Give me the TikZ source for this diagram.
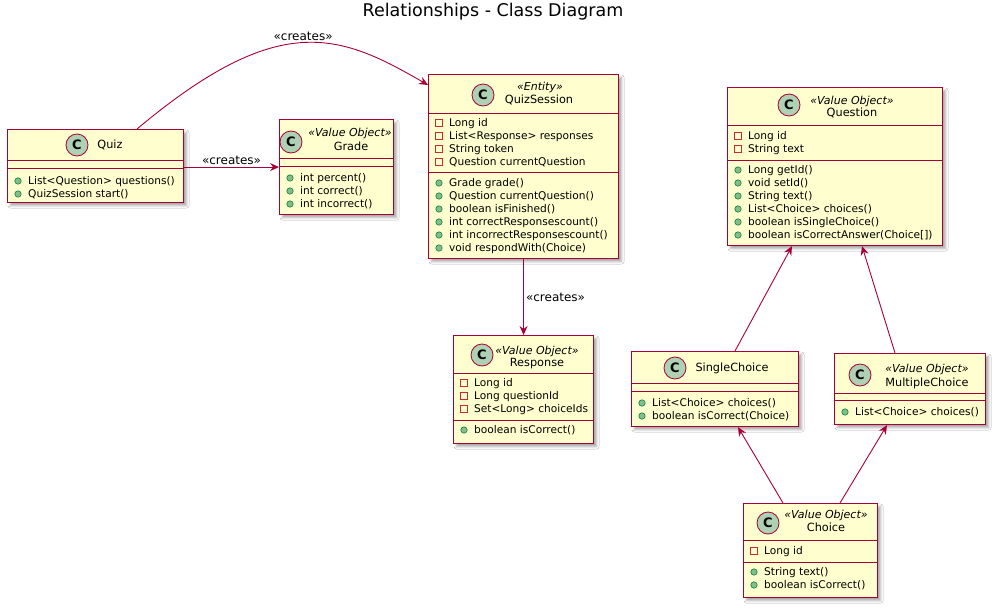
\documentclass[tikz,border=0pt]{standalone}
\usepackage{fontspec}
\setmainfont{DejaVu Sans}
\usetikzlibrary{arrows.meta,shadows.blur}
\definecolor{umlRed}{HTML}{A80036}
\definecolor{umlFill}{HTML}{FEFECE}
\definecolor{umlCirc}{HTML}{ADD1B2}
\definecolor{privRed}{HTML}{C82930}
\definecolor{pubFill}{HTML}{84BE84}
\definecolor{pubLine}{HTML}{038048}
\tikzset{
  classbox/.style={draw=umlRed, line width=1.1pt, fill=umlFill, anchor=north west, inner sep=0pt,
                   blur shadow={shadow xshift=3pt, shadow yshift=-3pt, shadow blur radius=2.5pt, shadow opacity=35}},
  sep/.style={draw=umlRed, line width=1pt},
  circ/.style={circle, draw=umlRed, line width=0.8pt, fill=umlCirc, minimum size=22pt, inner sep=0pt,
               font=\fontsize{13}{13}\selectfont\bfseries},
  cname/.style={inner sep=0pt, text height=10pt, text depth=2.4pt, font=\fontsize{11.3}{13}\selectfont},
  stereo/.style={cname, font=\fontsize{11}{13}\selectfont\itshape},
  member/.style={anchor=west, inner sep=0pt, text height=9pt, text depth=2pt, font=\fontsize{10.6}{13}\selectfont},
  privbox/.style={draw=privRed, line width=0.8pt},
  pubdot/.style={fill=pubFill, draw=pubLine, line width=0.6pt},
  rel/.style={draw=umlRed, line width=0.9pt, -{Stealth[length=9pt,width=8pt,inset=3pt]}},
  lbl/.style={inner sep=2pt, font=\fontsize{12}{13}\selectfont},
}

\begin{document}
\begin{tikzpicture}[x=1pt, y=-1pt]
  \path[fill=white, use as bounding box] (0,0) rectangle (999,608);
  \node[inner sep=0pt, text height=12.5pt, text depth=3.5pt, font=\fontsize{17.5}{20}\selectfont] (title) at (493,12) {Relationships - Class Diagram};

  % Quiz
  \node[classbox, minimum width=176pt, minimum height=73pt] (quiz) at (7,129) {};
  \node[circ] (quizc) at (77,145) {C};
  \node[cname] (quizn) at (110,145) {Quiz};
  \draw[sep] (7,160) -- (183,160);
  \draw[sep] (7,168) -- (183,168);
  \foreach \t [count=\i from 0] in {{List<Question> questions()}, {QuizSession start()}} {
    \draw[pubdot] (18,181+13*\i) circle (3.2pt);
    \node[member] (quizm\i) at (28,181+13*\i) {\t};
  }

  % Grade
  \node[classbox, minimum width=114pt, minimum height=95pt] (grade) at (279,119) {};
  \node[circ] (gradec) at (291,142) {C};
  \node[stereo] (grades) at (350,133) {«Value Object»};
  \node[cname] (graden) at (351,147) {Grade};
  \draw[sep] (279,158) -- (393,158);
  \draw[sep] (279,166) -- (393,166);
  \foreach \t [count=\i from 0] in {{int percent()}, {int correct()}, {int incorrect()}} {
    \draw[pubdot] (290,178+13*\i) circle (3.2pt);
    \node[member] (gradem\i) at (300,178+13*\i) {\t};
  }

  % QuizSession
  \node[classbox, minimum width=190pt, minimum height=184pt] (qs) at (428,74) {};
  \node[circ] (qsc) at (483,95) {C};
  \node[stereo] (qss) at (540,87) {«Entity»};
  \node[cname] (qsn) at (539,100) {QuizSession};
  \draw[sep] (428,113) -- (618,113);
  \draw[sep] (428,172) -- (618,172);
  \foreach \t [count=\i from 0] in {{Long id}, {List<Response> responses}, {String token}, {Question currentQuestion}} {
    \draw[privbox] (435.5,119.5+13*\i) rectangle ++(7,7);
    \node[member] (qsa\i) at (449,123+13*\i) {\t};
  }
  \foreach \t [count=\i from 0] in {{Grade grade()}, {Question currentQuestion()}, {boolean isFinished()},
      {int correctResponsescount()}, {int incorrectResponsescount()}, {void respondWith(Choice)}} {
    \draw[pubdot] (439,183+13*\i) circle (3.2pt);
    \node[member] (qsm\i) at (449,183+13*\i) {\t};
  }

  % Response
  \node[classbox, minimum width=140pt, minimum height=108pt] (resp) at (453,335) {};
  \node[circ] (respc) at (482,355) {C};
  \node[stereo] (resps) at (537,351) {«Value Object»};
  \node[cname] (respn) at (537,363) {Response};
  \draw[sep] (453,373) -- (593,373);
  \draw[sep] (453,420) -- (593,420);
  \foreach \t [count=\i from 0] in {{Long id}, {Long questionId}, {Set<Long> choiceIds}} {
    \draw[privbox] (460.5,379.5+13*\i) rectangle ++(7,7);
    \node[member] (respa\i) at (474,383+13*\i) {\t};
  }
  \draw[pubdot] (464,430) circle (3.2pt);
  \node[member] (respm0) at (474,430) {boolean isCorrect()};

  % Question
  \node[classbox, minimum width=215pt, minimum height=158pt] (quest) at (727,87) {};
  \node[circ] (questc) at (789,105) {C};
  \node[stereo] (quests) at (852,101) {«Value Object»};
  \node[cname] (questn) at (852,113) {Question};
  \draw[sep] (727,125) -- (942,125);
  \draw[sep] (727,160) -- (942,160);
  \foreach \t [count=\i from 0] in {{Long id}, {String text}} {
    \draw[privbox] (734.5,132.5+13*\i) rectangle ++(7,7);
    \node[member] (questa\i) at (748,136+13*\i) {\t};
  }
  \foreach \t [count=\i from 0] in {{Long getId()}, {void setId()}, {String text()}, {List<Choice> choices()},
      {boolean isSingleChoice()}, {boolean isCorrectAnswer(Choice[])}} {
    \draw[pubdot] (738,170+13*\i) circle (3.2pt);
    \node[member] (questm\i) at (748,170+13*\i) {\t};
  }

  % SingleChoice
  \node[classbox, minimum width=167pt, minimum height=75pt] (sc) at (631,351) {};
  \node[circ] (scc) at (675,368) {C};
  \node[cname] (scn) at (732,368) {SingleChoice};
  \draw[sep] (631,383) -- (798,383);
  \draw[sep] (631,391) -- (798,391);
  \foreach \t [count=\i from 0] in {{List<Choice> choices()}, {boolean isCorrect(Choice)}} {
    \draw[pubdot] (642,403+13*\i) circle (3.2pt);
    \node[member] (scm\i) at (652,403+13*\i) {\t};
  }

  % MultipleChoice
  \node[classbox, minimum width=151pt, minimum height=71pt] (mc) at (834,353) {};
  \node[circ] (mcc) at (860,375) {C};
  \node[stereo] (mcs) at (927,369) {«Value Object»};
  \node[cname] (mcn) at (927,383) {MultipleChoice};
  \draw[sep] (834,393) -- (985,393);
  \draw[sep] (834,400) -- (985,400);
  \draw[pubdot] (845,412) circle (3.2pt);
  \node[member] (mcm0) at (855,412) {List<Choice> choices()};

  % Choice
  \node[classbox, minimum width=134pt, minimum height=94pt] (ch) at (743,503) {};
  \node[circ] (chc) at (768,523) {C};
  \node[stereo] (chs) at (826,515) {«Value Object»};
  \node[cname] (chn) at (826,528) {Choice};
  \draw[sep] (743,540) -- (877,540);
  \draw[sep] (743,562) -- (877,562);
  \draw[privbox] (750.5,547.5) rectangle ++(7,7);
  \node[member] (cha0) at (764,551) {Long id};
  \foreach \t [count=\i from 0] in {{String text()}, {boolean isCorrect()}} {
    \draw[pubdot] (754,572+13*\i) circle (3.2pt);
    \node[member] (chm\i) at (764,572+13*\i) {\t};
  }

  % relations
  \draw[rel] ([xshift=130pt]quiz.north west) .. controls (280,9) and (340,34) .. ([yshift=-11pt]qs.north west)
    node[lbl, pos=0.5, above] (lcreate1) {«creates»};
  \draw[rel] (quiz.east |- grade.west) -- (grade.west) node[lbl, midway, above] (lcreate2) {«creates»};
  \draw[rel] (qs.south) -- (resp.north) node[lbl, midway, right] (lcreate3) {«creates»};
  \draw[rel] ([xshift=104pt]sc.north west) -- ([xshift=65pt]quest.south west);
  \draw[rel] ([xshift=61pt]mc.north west) -- ([xshift=135pt]quest.south west);
  \draw[rel] ([xshift=40pt]ch.north west) -- ([xshift=107pt]sc.south west);
  \draw[rel] ([xshift=97pt]ch.north west) -- ([xshift=53pt]mc.south west);
\end{tikzpicture}
\end{document}
